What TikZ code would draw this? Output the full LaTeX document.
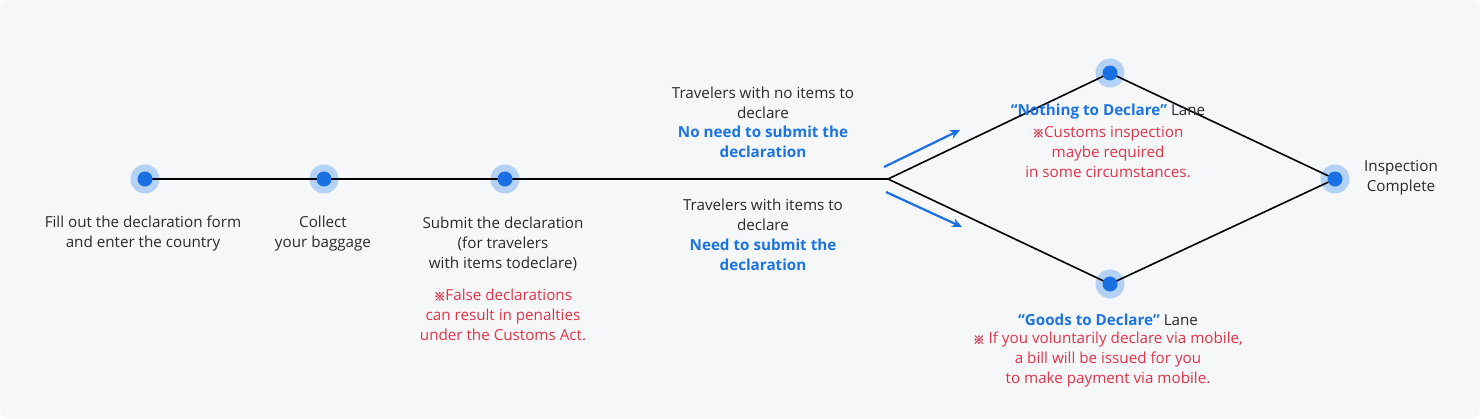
\documentclass[tikz,border=0pt]{standalone}
\usepackage{fontspec}
\setmainfont{Open Sans}
\newfontfamily\cjk{Noto Sans CJK KR}[AutoFakeBold=2]
\usetikzlibrary{arrows.meta}
\definecolor{bg}{HTML}{F6F7F9}
\definecolor{halo}{HTML}{B4D2F6}
\definecolor{dotblue}{HTML}{1A6FE3}
\definecolor{txt}{HTML}{2A2A2A}
\definecolor{bluetxt}{HTML}{1C74E0}
\definecolor{redtxt}{HTML}{E03448}
\newcommand{\refmark}{{\cjk\bfseries\fontsize{11.5}{11}\selectfont ※}}
\tikzset{
  halonode/.style={circle, fill=halo, minimum size=29pt, inner sep=0pt},
  dotnode/.style={circle, fill=dotblue, minimum size=15pt, inner sep=0pt},
  lbl/.style={align=center, text=txt, font=\fontsize{15.2}{20}\selectfont, inner sep=0pt},
  bluelbl/.style={lbl, text=bluetxt, font=\fontsize{15.2}{20}\selectfont\bfseries},
  redlbl/.style={lbl, text=redtxt},
  path/.style={line width=1.6pt, draw=black},
  hint/.style={line width=2.2pt, draw=dotblue, -{Stealth[length=10pt,width=9pt]}}
}
\begin{document}
\begin{tikzpicture}[x=1pt,y=-1pt]
\fill[bg, rounded corners=8pt] (0,0) rectangle (1480,418);
\useasboundingbox (0,0) rectangle (1480,418);
% halos
\node[halonode] (n1) at (145,179) {};
\node[halonode] (n2) at (324,179) {};
\node[halonode] (n3) at (505,179) {};
\coordinate (br) at (888,179);
\node[halonode] (top) at (1110,73) {};
\node[halonode] (bot) at (1110,284) {};
\node[halonode] (fin) at (1335,179) {};
% lines
\draw[path] (n1.center) -- (n2.center) -- (n3.center) -- (br);
\draw[path] (br) -- (top.center) -- (fin.center);
\draw[path] (br) -- (bot.center) -- (fin.center);
% dots
\foreach \n in {n1,n2,n3,top,bot,fin} \node[dotnode] at (\n) {};
% arrows
\coordinate (a1s) at (884,167); \coordinate (a1e) at (960,130);
\coordinate (a2s) at (886,192); \coordinate (a2e) at (962,227);
\draw[hint] (a1s) -- (a1e);
\draw[hint] (a2s) -- (a2e);
% labels
\node[lbl] (t1) at (143,234) {Fill out the declaration form\\and enter the country};
\node[lbl] (t2) at (323,234) {Collect\\your baggage};
\node[lbl] (t3) at (503,244) {Submit the declaration\\(for travelers\\with items todeclare)};
\node[redlbl] (t3r) at (503,315) {\refmark False declarations\\can result in penalties\\under the Customs Act.};
\node[lbl] (u1) at (763,103) {Travelers with no items to\\declare};
\node[bluelbl] (u2) at (763,142) {No need to submit the\\declaration};
\node[lbl] (d1) at (763,215) {Travelers with items to\\declare};
\node[bluelbl] (d2) at (763,255) {Need to submit the\\declaration};
\node[lbl] (tl) at (1108,112) {\textcolor{bluetxt}{\bfseries “Nothing to Declare”} Lane};
\node[redlbl] (tlr) at (1108,152) {\refmark Customs inspection\\maybe required\\in some circumstances.};
\node[lbl] (fl) at (1401,178) {Inspection\\Complete};
\node[lbl] (bl) at (1108,320) {\textcolor{bluetxt}{\bfseries “Goods to Declare”} Lane};
\node[redlbl] (blr) at (1108,360) {\refmark\ If you voluntarily declare via mobile,\\a bill will be issued for you\\to make payment via mobile.};
\end{tikzpicture}
\end{document}
